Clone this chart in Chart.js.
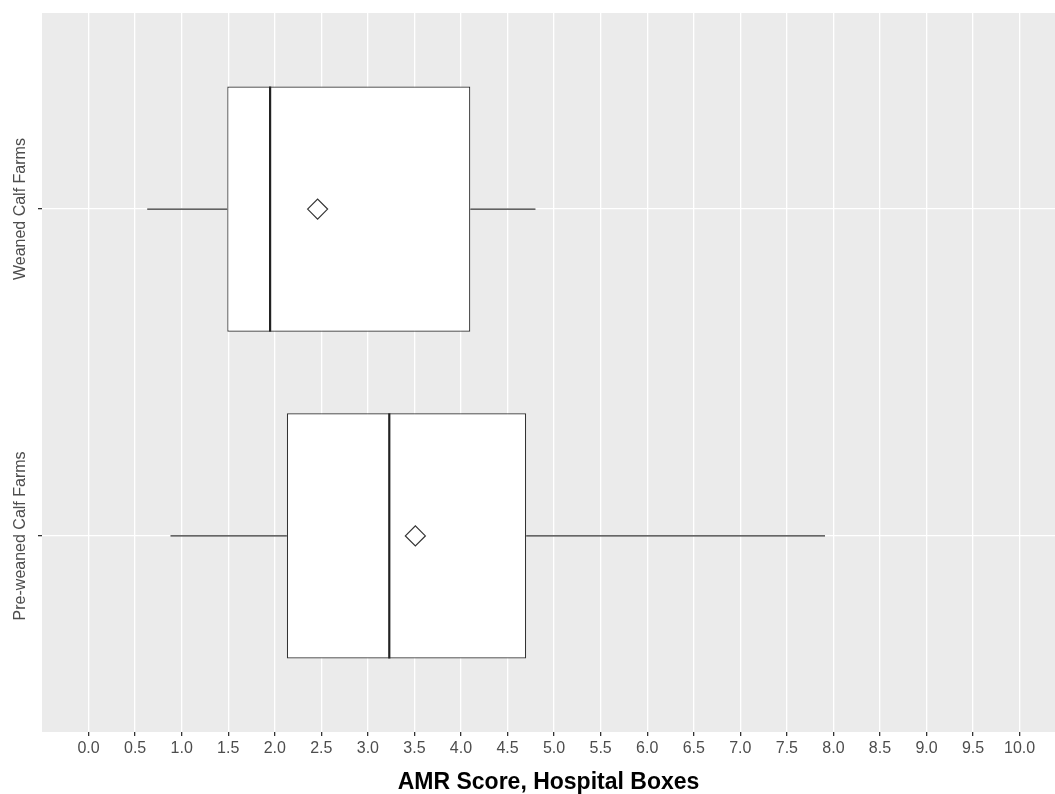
<!DOCTYPE html>
<html>
<head>
<meta charset="utf-8">
<script src="https://cdn.jsdelivr.net/npm/chart.js@4"></script>
<style>
  body { margin: 0; background: #fff; overflow: hidden; }
</style>
</head>
<body>
<canvas id="amrBox" width="1055" height="794"></canvas>
<script>
// groups, top to bottom (y position 2 = top)
const groups = ['Weaned Calf Farms', 'Pre-weaned Calf Farms']
const groupPos = [2, 1]

// box plot stats
const whiskerLow = [0.63, 0.88]
const q1 = [1.49, 2.13]
const median = [1.95, 3.23]
const q3 = [4.10, 4.70]
const whiskerHigh = [4.80, 7.91]
const mean = [2.46, 3.51]

const xTicks = [0, 0.5, 1, 1.5, 2, 2.5, 3, 3.5, 4, 4.5, 5, 5.5, 6, 6.5, 7, 7.5, 8, 8.5, 9, 9.5, 10]

const boxWidth = 0.75
const font = 'Liberation Sans, Arial, sans-serif'
const darkLine = '#333333'

const datasets = []

// whiskers
groups.forEach((g, i) => {
    datasets.push({
        type: 'scatter', showLine: true, order: 3,
        data: [{ x: whiskerLow[i], y: groupPos[i] }, { x: q1[i], y: groupPos[i] }],
        borderColor: darkLine, borderWidth: 1.3, pointRadius: 0
    })
    datasets.push({
        type: 'scatter', showLine: true, order: 3,
        data: [{ x: q3[i], y: groupPos[i] }, { x: whiskerHigh[i], y: groupPos[i] }],
        borderColor: darkLine, borderWidth: 1.3, pointRadius: 0
    })
})

// boxes
datasets.push({
    type: 'bar', order: 2,
    data: groups.map((g, i) => ({ x: [q1[i], q3[i]], y: groupPos[i] })),
    backgroundColor: '#ffffff',
    borderColor: darkLine,
    borderWidth: 1.2,
    borderSkipped: false,
    categoryPercentage: 1,
    barPercentage: boxWidth
})

// medians
groups.forEach((g, i) => {
    datasets.push({
        type: 'scatter', showLine: true, order: 1,
        data: [{ x: median[i], y: groupPos[i] - boxWidth / 2 }, { x: median[i], y: groupPos[i] + boxWidth / 2 }],
        borderColor: '#222222', borderWidth: 2.2, pointRadius: 0
    })
})

// means
datasets.push({
    type: 'scatter', order: 0,
    data: groups.map((g, i) => ({ x: mean[i], y: groupPos[i] })),
    pointStyle: 'rectRot',
    pointRadius: 10,
    backgroundColor: '#ffffff',
    borderColor: darkLine,
    borderWidth: 1.2
})

const panelBg = {
    id: 'panelBg',
    beforeDraw(chart) {
        const { ctx, chartArea: a } = chart
        ctx.save()
        ctx.fillStyle = '#EBEBEB'
        ctx.fillRect(a.left, a.top, a.right - a.left, a.bottom - a.top)
        ctx.restore()
    }
}

// rotated group labels on the left, placed with the y scale
const groupLabels = {
    id: 'groupLabels',
    afterDraw(chart) {
        const { ctx } = chart
        const yScale = chart.scales.y
        ctx.save()
        ctx.fillStyle = '#4D4D4D'
        ctx.font = '16px ' + font
        ctx.textAlign = 'center'
        ctx.textBaseline = 'middle'
        groups.forEach((g, i) => {
            const py = yScale.getPixelForValue(groupPos[i])
            ctx.save()
            ctx.translate(21, py)
            ctx.rotate(-Math.PI / 2)
            ctx.fillText(g, 0, 0)
            ctx.restore()
        })
        ctx.restore()
    }
}

new Chart(document.getElementById('amrBox'), {
    type: 'bar',
    data: { datasets },
    options: {
        indexAxis: 'y',
        responsive: false,
        animation: false,
        layout: { autoPadding: false, padding: { top: 13, right: 0, left: 0, bottom: 0 } },
        plugins: { legend: { display: false }, tooltip: { enabled: false } },
        scales: {
            x: {
                type: 'linear',
                min: -0.5,
                max: 10.38,
                afterBuildTicks: (s) => { s.ticks = xTicks.map(v => ({ value: v })) },
                afterFit: (s) => { s.height = 62; s.paddingLeft = 0; s.paddingRight = 0 },
                grid: { color: '#ffffff', lineWidth: 1.3, tickColor: darkLine, tickLength: 4 },
                border: { display: false },
                ticks: {
                    autoSkip: false, maxRotation: 0, padding: 3,
                    color: '#4D4D4D',
                    font: { family: font, size: 16 },
                    callback: (v) => Number(v).toFixed(1)
                },
                title: {
                    display: true,
                    text: 'AMR Score, Hospital Boxes',
                    color: '#000000',
                    font: { family: font, size: 23, weight: 'bold', lineHeight: 1 },
                    padding: { top: 0, bottom: 0 }
                }
            },
            y: {
                type: 'linear',
                min: 0.4,
                max: 2.6,
                offset: false,
                afterBuildTicks: (s) => { s.ticks = groupPos.map(v => ({ value: v })) },
                afterFit: (s) => { s.width = 42 },
                grid: { offset: false, color: '#ffffff', lineWidth: 1.3, tickColor: darkLine, tickLength: 4 },
                border: { display: false },
                ticks: { display: false }
            }
        }
    },
    plugins: [panelBg, groupLabels]
})
</script>
</body>
</html>
